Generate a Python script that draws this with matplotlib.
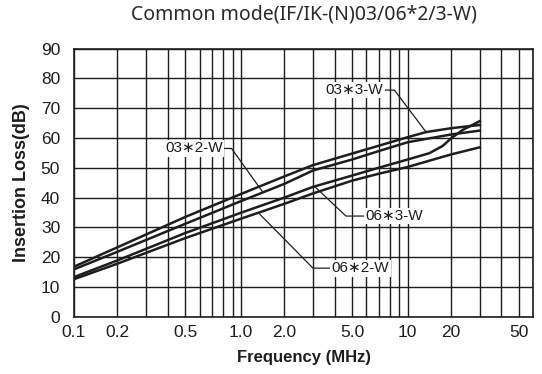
#!/usr/bin/env python3
# -*- coding: utf-8 -*-

import numpy as np
import matplotlib
matplotlib.use("Agg")
import matplotlib.pyplot as plt
from matplotlib.ticker import FixedLocator, NullFormatter

# ---------------------------------------------------------------------
# DADES
# ---------------------------------------------------------------------

freq_03_3 = [0.1, 0.2, 0.5, 1.0, 2.0, 3.0, 5.0, 7.0, 10, 13.4, 20, 30]
il_03_3 = [16.8, 23.3, 33.5, 41.2, 47.1, 50.9, 54.8, 57.4, 60.3, 62.0, 63.3, 64.4]

freq_03_2 = [0.1, 0.2, 0.5, 1.0, 2.0, 3.0, 5.0, 7.0, 10, 20, 30]
il_03_2 = [15.9, 21.8, 31.2, 38.8, 44.6, 49.1, 52.8, 55.6, 58.6, 61.2, 62.5]

freq_06_3 = [0.1, 0.2, 0.5, 1.0, 2.0, 3.0, 5.0, 7.0, 10, 14.1, 17.4, 20, 23.5, 30]
il_06_3 = [13.3, 18.9, 28.1, 34.9, 40.0, 43.6, 47.4, 50.0, 52.8, 54.9, 57.3, 59.9, 62.7, 65.7]

freq_06_2 = [0.1, 0.2, 0.5, 1.0, 2.0, 3.0, 5.0, 7.0, 10, 20, 30]
il_06_2 = [12.6, 17.8, 26.4, 32.9, 37.9, 41.4, 45.7, 48.0, 50.3, 54.5, 56.9]

xticks = [0.1, 0.2, 0.5, 1.0, 2.0, 5.0, 10, 20, 50]
xticklabels = ["0.1", "0.2", "0.5", "1.0", "2.0", "5.0", "10", "20", "50"]
yticks = list(range(0, 100, 10))

# ---------------------------------------------------------------------
# ESCALA (paper logarítmic lleugerament deformat de l'original)
# ---------------------------------------------------------------------

LOGFRAC = np.log10(np.arange(1, 11))
WARPFRAC = np.array([0, 0.26, 0.432, 0.561, 0.667, 0.752, 0.825, 0.891, 0.95, 1.0])


def fwd(f):
    lf = np.log10(np.clip(np.asarray(f, dtype=float), 1e-9, None))
    d = np.floor(lf)
    return d + np.interp(lf - d, LOGFRAC, WARPFRAC)


def inv(v):
    v = np.asarray(v, dtype=float)
    d = np.floor(v)
    return 10 ** (d + np.interp(v - d, WARPFRAC, LOGFRAC))


# ---------------------------------------------------------------------
# GRÀFIC
# ---------------------------------------------------------------------

INK = "#1e1e1e"
FAM = ["Liberation Sans", "DejaVu Sans"]

fig = plt.figure(figsize=(5.42, 3.74), dpi=100)
ax = fig.add_axes([74 / 542, 1 - 316.7 / 374, (533.3 - 74) / 542, (316.7 - 48.7) / 374])
ax.set_xscale("function", functions=(fwd, inv))
ax.set_xlim(0.1, 60)
ax.set_ylim(0, 90)

# graella
minors = [m * 10.0 ** e for e in (-1, 0, 1) for m in range(1, 10) if m * 10.0 ** e <= 60]
ax.xaxis.set_major_locator(FixedLocator(xticks))
ax.xaxis.set_minor_locator(FixedLocator(minors))
ax.xaxis.set_minor_formatter(NullFormatter())
ax.set_xticklabels(xticklabels)
ax.set_yticks(yticks)
ax.grid(True, which="both", axis="x", color=INK, linewidth=1.0)
ax.grid(True, which="major", axis="y", color=INK, linewidth=1.0)
ax.tick_params(which="both", length=0, labelsize=12.5, colors=INK)
ax.tick_params(axis="y", pad=10)
ax.tick_params(axis="x", pad=6)
for lab in ax.get_xticklabels() + ax.get_yticklabels():
    lab.set_family(FAM)
for s in ax.spines.values():
    s.set_color(INK)
    s.set_linewidth(1.2)

for f, il in ((freq_03_3, il_03_3), (freq_03_2, il_03_2),
              (freq_06_3, il_06_3), (freq_06_2, il_06_2)):
    ax.plot(f, il, color=INK, linewidth=1.8, zorder=3)

# etiquetes amb línia guia
etiquetes = [
    # text, (x text, y), elbow x, (x final, y final)
    ("03∗3-W", (7.4, 76.1), 8.47, (13.4, 62.0)),
    ("03∗2-W", (0.80, 56.5), 0.889, (1.41, 42.0)),
    ("06∗3-W", (5.9, 33.8), 4.62, (3.11, 43.4)),
    ("06∗2-W", (3.85, 16.3), 3.0, (1.34, 34.6)),
]
for txt, (tx, ty), ex, (fx, fy) in etiquetes:
    dreta = ex > tx
    ax.plot([tx, ex, fx], [ty, ty, fy], color=INK, linewidth=0.9, zorder=4)
    ax.text(tx, ty, txt, ha="right" if dreta else "left", va="center",
            fontsize=11, family=FAM, color=INK, zorder=5,
            bbox=dict(facecolor="white", edgecolor="none", pad=1.0))

ax.set_xlabel("Frequency (MHz)", fontsize=12, fontweight="bold",
              family=FAM, color=INK, labelpad=7)
ax.set_ylabel("Insertion Loss(dB)", fontsize=13, fontweight="bold",
              family=FAM, color=INK, labelpad=8)

fig.text(0.56, 0.96, "Common mode(IF/IK-(N)03/06*2/3-W)", ha="center", va="center",
         fontsize=14, family="Noto Sans", color="#2a2a2a")

fig.savefig("out.png", dpi=100)
